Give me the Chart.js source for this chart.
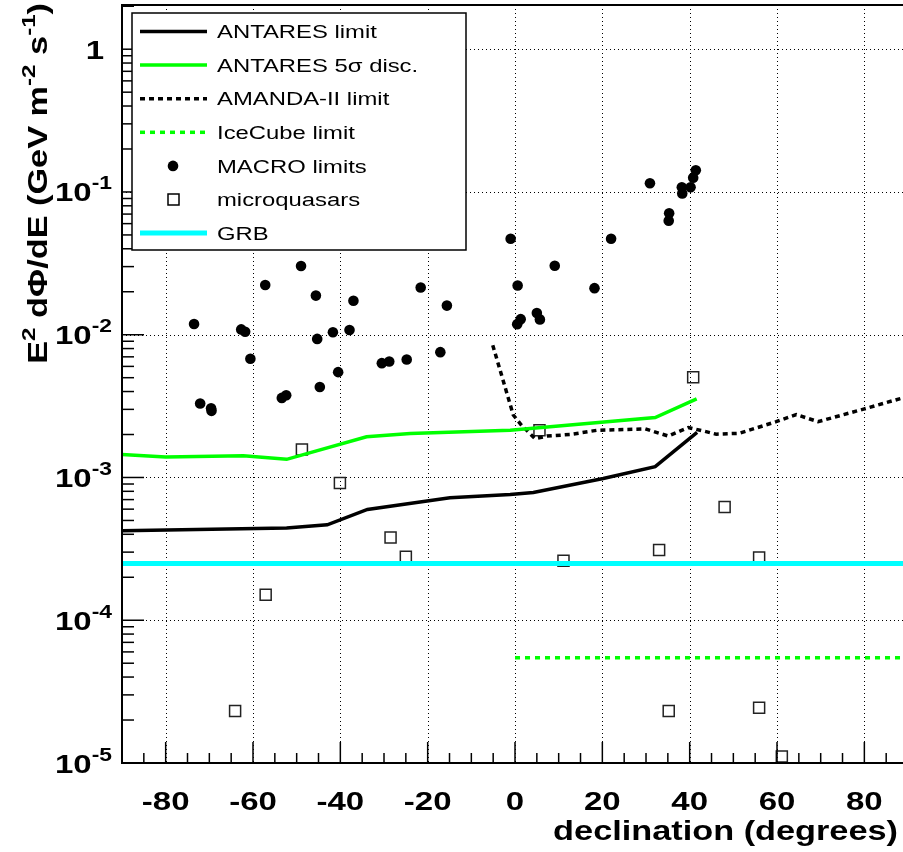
<!DOCTYPE html>
<html>
<head>
<meta charset="utf-8">
<script src="https://cdn.jsdelivr.net/npm/chart.js@4.4.0/dist/chart.umd.min.js"></script>
<style>
  html, body { margin: 0; padding: 0; background: #fff; overflow: hidden; }
  canvas { display: block; }
</style>
</head>
<body>
<canvas id="chart1" width="903" height="852"></canvas>
<script>
// declination in degrees, flux E^2 dPhi/dE in GeV m^-2 s^-1
var antaresDec   = [-90, -52.3, -43.0, -33.8, -14.9, -1.1, 4.2, 20.2, 32.1, 41.7];
var antaresLimit = [4.23e-4, 4.42e-4, 4.66e-4, 5.97e-4, 7.20e-4, 7.60e-4, 7.85e-4, 9.84e-4, 1.19e-3, 2.07e-3];

var discDec  = [-90, -80, -62.2, -52.3, -34.0, -24.0, -1.1, 32.1, 41.6];
var discFlux = [1.45e-3, 1.39e-3, 1.42e-3, 1.34e-3, 1.93e-3, 2.03e-3, 2.14e-3, 2.63e-3, 3.55e-3];

var amandaDec  = [-5.1, -0.4, 1.5, 4.6, 7.3, 12.6, 18.7, 29.8, 35.1, 39.7, 43.3, 46.1, 51.4, 59.8, 64.4, 69.4, 79.8, 90];
var amandaFlux = [8.45e-3, 2.74e-3, 2.32e-3, 1.87e-3, 1.95e-3, 2.00e-3, 2.14e-3, 2.19e-3, 1.95e-3, 2.24e-3, 2.11e-3, 2.01e-3, 2.04e-3, 2.46e-3, 2.76e-3, 2.46e-3, 3.01e-3, 3.7e-3];

var icecubeDec  = [0, 90];
var icecubeFlux = [5.45e-5, 5.45e-5];

var grbDec  = [-90, 90];
var grbFlux = [2.5e-4, 2.5e-4];

var macroDec  = [-57.2, -49.0, -45.6, -37.0, -21.6, -15.6, -73.5, -62.7, -61.8, -41.7, -37.9, -45.3,
                 -60.6, -30.5, -28.8, -24.8, -17.1, -40.5, -44.7, -53.4, -52.4, -72.1, -69.6, -69.5,
                 30.9, 41.4, 40.8, 40.2, 38.2, 38.3, 35.3, 35.2, -1.0, 22.0, 9.1, 0.6, 18.2, 5.0, 5.7, 1.3, 0.5];
var macroFlux = [0.0223, 0.0303, 0.0188, 0.0173, 0.0214, 0.0160, 0.0119, 0.0109, 0.0105, 0.0104, 0.0108, 0.00935,
                 0.00678, 0.00632, 0.0065, 0.00671, 0.00755, 0.00547, 0.0043, 0.00361, 0.00377, 0.0033, 0.00305, 0.00293,
                 0.115, 0.142, 0.126, 0.108, 0.108, 0.0977, 0.0708, 0.0628, 0.047, 0.047, 0.0304, 0.0221, 0.0212, 0.0142, 0.0128, 0.01285, 0.01186];

var mqDec  = [-48.8, -40.1, -28.5, -25.0, -57.1, -64.1, 40.8, 5.6, 48.0, 33.0, 55.9, 11.1, 35.2, 55.9, 61.1];
var mqFlux = [1.57e-3, 9.16e-4, 3.80e-4, 2.78e-4, 1.51e-4, 2.31e-5, 5.03e-3, 2.14e-3, 6.22e-4, 3.10e-4, 2.75e-4, 2.61e-4, 2.31e-5, 2.44e-5, 1.11e-5];

var xTicks = [-80, -60, -40, -20, 0, 20, 40, 60, 80];
var yDecades = [-5, -4, -3, -2, -1, 0];

var legendLabels = ['ANTARES limit', 'ANTARES 5\u03C3 disc.', 'AMANDA-II limit', 'IceCube limit', 'MACRO limits', 'microquasars', 'GRB'];

var GREEN = '#00ff00';
var CYAN = '#00ffff';
var SX = 1.27; // glyphs in this plot are drawn wide
var FONT = '"Liberation Sans", Arial, sans-serif';

function pts(xs, ys){
	var out = [];
	for(var i = 0; i < xs.length; i++){
		out.push({x: xs[i], y: ys[i]});
	}
	return out;
}

// draws a run of text pieces (with optional superscripts), stretched along the baseline
function richText(ctx, parts, x, y, align){
	var total = 0;
	for(var i = 0; i < parts.length; i++){
		ctx.font = parts[i].f;
		parts[i].w = ctx.measureText(parts[i].t).width * SX;
		total += parts[i].w;
	}
	var cx = x;
	if(align === 'right') cx = x - total;
	if(align === 'center') cx = x - total / 2;
	ctx.textAlign = 'left';
	ctx.textBaseline = 'alphabetic';
	for(var j = 0; j < parts.length; j++){
		ctx.save();
		ctx.font = parts[j].f;
		ctx.translate(cx, y + (parts[j].dy || 0));
		ctx.scale(SX, 1);
		ctx.fillText(parts[j].t, 0, 0);
		ctx.restore();
		cx += parts[j].w;
	}
}

var gridPlugin = {
	id: 'rootGrid',
	beforeDatasetsDraw: function(chart){
		var ctx = chart.ctx, a = chart.chartArea;
		var xs = chart.scales.x, ys = chart.scales.y;
		ctx.save();
		ctx.strokeStyle = '#000';
		ctx.lineWidth = 1;
		ctx.setLineDash([1, 3]);
		xTicks.forEach(function(v){
			var px = Math.round(xs.getPixelForValue(v)) + 0.5;
			ctx.beginPath(); ctx.moveTo(px, a.top); ctx.lineTo(px, a.bottom); ctx.stroke();
		});
		yDecades.forEach(function(d){
			if(d === -5) return;
			var py = Math.round(ys.getPixelForValue(Math.pow(10, d))) + 0.5;
			ctx.beginPath(); ctx.moveTo(a.left, py); ctx.lineTo(a.right, py); ctx.stroke();
		});
		ctx.restore();
	}
};

var framePlugin = {
	id: 'rootFrame',
	afterDatasetsDraw: function(chart){
		var ctx = chart.ctx, a = chart.chartArea;
		var xs = chart.scales.x, ys = chart.scales.y;
		ctx.save();
		ctx.strokeStyle = '#000';
		ctx.fillStyle = '#000';

		// ticks
		ctx.lineWidth = 1.5;
		for(var v = -85; v <= 90; v += 5){
			var px = xs.getPixelForValue(v);
			if(px > a.right) break;
			var len = (v % 20 === 0) ? 21 : 10;
			ctx.beginPath(); ctx.moveTo(px, a.bottom); ctx.lineTo(px, a.bottom - len); ctx.stroke();
		}
		yDecades.forEach(function(d){
			for(var k = 1; k <= 9; k++){
				var val = k * Math.pow(10, d);
				if(val > ys.max) break;
				var py = ys.getPixelForValue(val);
				var len = (k === 1) ? 22 : 12;
				ctx.beginPath(); ctx.moveTo(a.left, py); ctx.lineTo(a.left + len, py); ctx.stroke();
			}
		});

		// frame (left, bottom, top)
		ctx.lineWidth = 2;
		ctx.beginPath();
		ctx.moveTo(a.right, a.top); ctx.lineTo(a.left, a.top);
		ctx.lineTo(a.left, a.bottom); ctx.lineTo(a.right, a.bottom);
		ctx.stroke();

		// tick labels
		var big = 'bold 26px ' + FONT, sup = 'bold 18px ' + FONT;
		xTicks.forEach(function(t){
			richText(ctx, [{t: String(t), f: big}], xs.getPixelForValue(t), 810, 'center');
		});
		yDecades.forEach(function(d){
			var py = ys.getPixelForValue(Math.pow(10, d)) + 9.5;
			if(d === 0){
				richText(ctx, [{t: '1', f: big}], 104, py, 'right');
			} else {
				richText(ctx, [{t: '10', f: big}, {t: String(d), f: sup, dy: -12}], 112, py, 'right');
			}
		});

		// axis titles
		var tf = 'bold 27px ' + FONT, ts = 'bold 19px ' + FONT;
		richText(ctx, [{t: 'declination (degrees)', f: tf}], 898, 840, 'right');
		ctx.save();
		ctx.translate(47, 3);
		ctx.rotate(-Math.PI / 2);
		richText(ctx, [
			{t: 'E', f: tf}, {t: '2', f: ts, dy: -12},
			{t: ' d\u03A6/dE (GeV m', f: tf}, {t: '-2', f: ts, dy: -12},
			{t: ' s', f: tf}, {t: '-1', f: ts, dy: -12},
			{t: ')', f: tf}
		], 0, 0, 'right');
		ctx.restore();

		// legend box
		var lx = 132, ly = 13, lw = 334, lh = 237;
		ctx.fillStyle = '#fff';
		ctx.fillRect(lx, ly, lw, lh);
		ctx.lineWidth = 1.5;
		ctx.strokeRect(lx, ly, lw, lh);
		ctx.fillStyle = '#000';

		var styles = [
			{c: '#000', w: 3.5, dash: []},
			{c: GREEN, w: 3.5, dash: []},
			{c: '#000', w: 3.5, dash: [5, 4]},
			{c: GREEN, w: 3.5, dash: [5, 5]},
			{dot: true},
			{box: true},
			{c: CYAN, w: 5, dash: []}
		];
		var lf = '18.8px ' + FONT;
		for(var i = 0; i < legendLabels.length; i++){
			var cy = 31.5 + i * 33.6;
			var s = styles[i];
			if(s.dot){
				ctx.beginPath(); ctx.arc(173, cy, 5.3, 0, Math.PI * 2); ctx.fill();
			} else if(s.box){
				ctx.lineWidth = 1.5; ctx.setLineDash([]);
				ctx.strokeRect(168, cy - 5.5, 11, 11);
			} else {
				ctx.strokeStyle = s.c; ctx.lineWidth = s.w; ctx.setLineDash(s.dash);
				ctx.beginPath(); ctx.moveTo(140, cy); ctx.lineTo(207, cy); ctx.stroke();
				ctx.strokeStyle = '#000'; ctx.setLineDash([]);
			}
			richText(ctx, [{t: legendLabels[i], f: lf}], 217, cy + 6.7, 'left');
		}
		ctx.restore();
	}
};

var ctx = document.getElementById('chart1').getContext('2d');
var myChart = new Chart(ctx, {
	type: 'line',
	data: {
		datasets: [{
			label: 'GRB',
			data: pts(grbDec, grbFlux),
			borderColor: CYAN,
			borderWidth: 5,
			pointRadius: 0,
			order: 0
		}, {
			label: 'ANTARES limit',
			data: pts(antaresDec, antaresLimit),
			borderColor: '#000',
			borderWidth: 3.5,
			pointRadius: 0,
			order: 1
		}, {
			label: 'ANTARES 5 sigma disc.',
			data: pts(discDec, discFlux),
			borderColor: GREEN,
			borderWidth: 3.5,
			pointRadius: 0,
			order: 1
		}, {
			label: 'AMANDA-II limit',
			data: pts(amandaDec, amandaFlux),
			borderColor: '#000',
			borderWidth: 3.5,
			borderDash: [5, 4],
			pointRadius: 0,
			order: 1
		}, {
			label: 'IceCube limit',
			data: pts(icecubeDec, icecubeFlux),
			borderColor: GREEN,
			borderWidth: 3.5,
			borderDash: [5, 5],
			pointRadius: 0,
			order: 1
		}, {
			label: 'MACRO limits',
			data: pts(macroDec, macroFlux),
			showLine: false,
			pointStyle: 'circle',
			pointRadius: 5.3,
			pointBackgroundColor: '#000',
			pointBorderWidth: 0,
			order: 2
		}, {
			label: 'microquasars',
			data: pts(mqDec, mqFlux),
			showLine: false,
			pointStyle: 'rect',
			pointRadius: 7.8,
			pointBackgroundColor: 'rgba(0,0,0,0)',
			pointBorderColor: '#222',
			pointBorderWidth: 1.5,
			order: 3
		}]
	},
	options: {
		responsive: false,
		animation: false,
		layout: { autoPadding: false, padding: { left: 122, top: 5, right: 0, bottom: 89 } },
		elements: { line: { tension: 0 } },
		scales: {
			x: { type: 'linear', min: -90, max: 88.85, display: false },
			y: { type: 'logarithmic', min: 1e-5, max: 2.04, display: false }
		},
		plugins: {
			legend: { display: false },
			tooltip: { enabled: false }
		}
	},
	plugins: [gridPlugin, framePlugin]
});
</script>
</body>
</html>
